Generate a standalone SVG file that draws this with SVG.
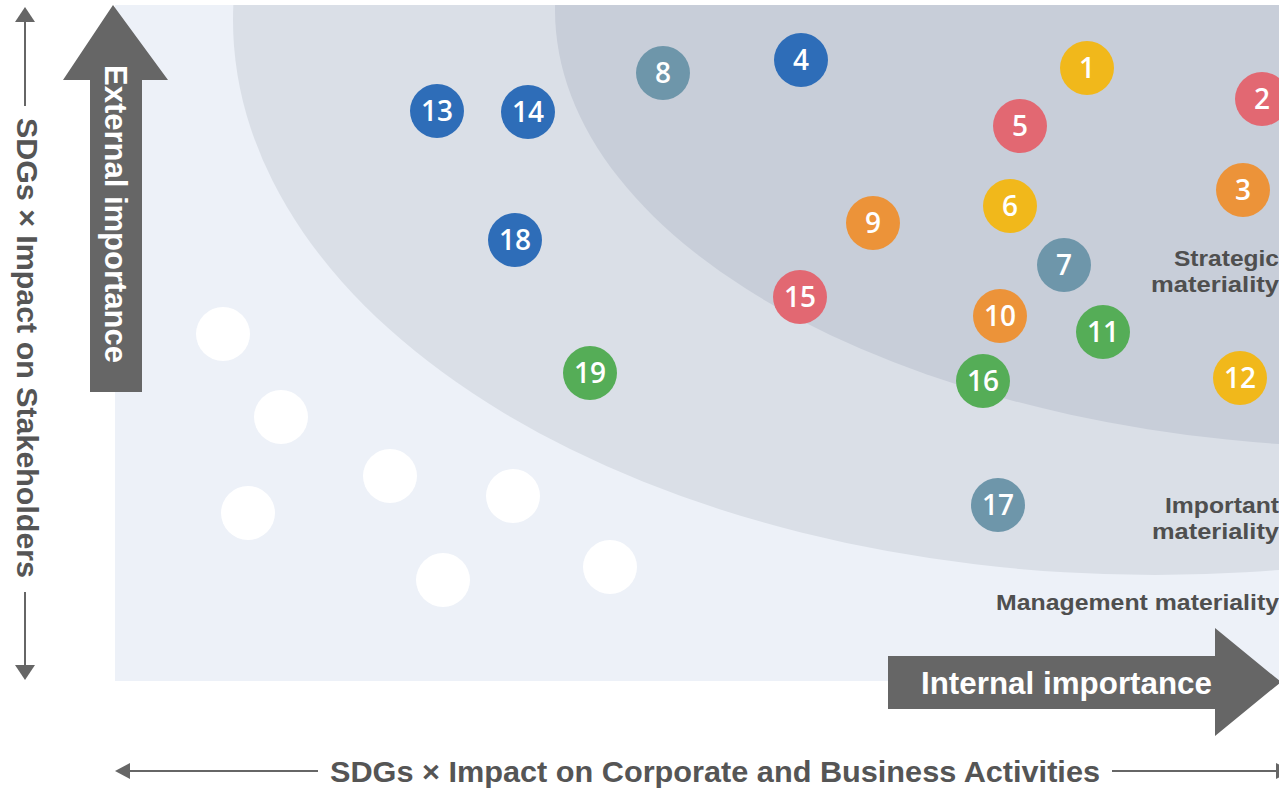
<svg xmlns="http://www.w3.org/2000/svg" width="1279" height="788" viewBox="0 0 1279 788">
<style>
.lbl{font-family:"Liberation Sans",Arial,sans-serif;font-weight:700;fill:#4f4f4f}
.big{font-family:"Liberation Sans",Arial,sans-serif;font-weight:700;fill:#ffffff}
.axis{font-family:"Liberation Sans",Arial,sans-serif;font-weight:700;fill:#555555}
.num{font-family:"Open Sans","Noto Sans",sans-serif;font-weight:600;font-size:28px;fill:#ffffff;text-anchor:middle}
.ln{stroke:#666666;stroke-width:2;fill:none}
.ah{fill:#666666}
.dot{fill:#ffffff}
.blue{fill:#2e6db8}.slate{fill:#6e96aa}.yellow{fill:#f1b81b}.red{fill:#e26872}.orange{fill:#ec9339}.green{fill:#55ad57}
</style>
<defs>
<clipPath id="bgclip"><rect x="115" y="5" width="1164" height="676"/></clipPath>
</defs>
<g id="background">
<rect x="115" y="5" width="1164" height="676" fill="#edf1f8"/>
<g clip-path="url(#bgclip)">
<ellipse id="important-zone" cx="1155" cy="20" rx="922" ry="555" fill="#dadfe7"/>
<ellipse id="strategic-zone" cx="1390" cy="10" rx="835" ry="438" fill="#c8ced9"/>
</g>
</g>
<g id="white-dots">
<circle class="dot" cx="223" cy="334" r="27"/>
<circle class="dot" cx="281" cy="417" r="27"/>
<circle class="dot" cx="390" cy="476" r="27"/>
<circle class="dot" cx="513" cy="496" r="27"/>
<circle class="dot" cx="248" cy="513" r="27"/>
<circle class="dot" cx="443" cy="580" r="27"/>
<circle class="dot" cx="610" cy="567" r="27"/>
</g>
<g id="zone-labels">
<text class="lbl" font-size="22" text-anchor="end" x="1279" y="266" textLength="105" lengthAdjust="spacingAndGlyphs">Strategic</text>
<text class="lbl" font-size="22" text-anchor="end" x="1279" y="292" textLength="128" lengthAdjust="spacingAndGlyphs">materiality</text>
<text class="lbl" font-size="22" text-anchor="end" x="1279" y="513" textLength="114" lengthAdjust="spacingAndGlyphs">Important</text>
<text class="lbl" font-size="22" text-anchor="end" x="1279" y="539" textLength="127" lengthAdjust="spacingAndGlyphs">materiality</text>
<text class="lbl" font-size="22" text-anchor="end" x="1279" y="610" textLength="283" lengthAdjust="spacingAndGlyphs">Management materiality</text>
</g>
<g id="external-arrow">
<polygon class="ah" points="113,5 168,80 142,80 142,392 90,392 90,80 63,80"/>
<text class="big" font-size="32" transform="translate(105,65) rotate(90)" textLength="298" lengthAdjust="spacingAndGlyphs">External importance</text>
</g>
<g id="internal-arrow">
<polygon class="ah" points="888,656 1215,656 1215,628 1281,682 1215,736 1215,709 888,709"/>
<text class="big" font-size="32" x="921" y="694" textLength="291" lengthAdjust="spacingAndGlyphs">Internal importance</text>
</g>
<g id="connectors">
<polygon class="ah" points="25,7 35,22 15,22"/>
<line class="ln" x1="25" y1="20" x2="25" y2="106"/>
<line class="ln" x1="25" y1="592" x2="25" y2="667"/>
<polygon class="ah" points="15,665 35,665 25,680"/>
<polygon class="ah" points="115,771 130,763 130,779"/>
<line class="ln" x1="128" y1="771" x2="318" y2="771"/>
<line class="ln" x1="1112" y1="771" x2="1279" y2="771"/>
<polygon class="ah" points="1276,763 1291,771 1276,779"/>
</g>
<g id="axis-labels">
<text class="axis" font-size="30" transform="translate(17,118) rotate(90)" textLength="460" lengthAdjust="spacingAndGlyphs">SDGs × Impact on Stakeholders</text>
<text class="axis" font-size="30" x="330" y="782" textLength="770" lengthAdjust="spacingAndGlyphs">SDGs ×  Impact on Corporate and Business Activities</text>
</g>
<g id="n1"><circle class="yellow" cx="1087" cy="68" r="27"/><text class="num" x="1087" y="78">1</text></g>
<g id="n2"><circle class="red" cx="1262" cy="99" r="27"/><text class="num" x="1262" y="109">2</text></g>
<g id="n3"><circle class="orange" cx="1243" cy="190" r="27"/><text class="num" x="1243" y="200">3</text></g>
<g id="n4"><circle class="blue" cx="801" cy="60" r="27"/><text class="num" x="801" y="70">4</text></g>
<g id="n5"><circle class="red" cx="1020" cy="126" r="27"/><text class="num" x="1020" y="136">5</text></g>
<g id="n6"><circle class="yellow" cx="1010" cy="206" r="27"/><text class="num" x="1010" y="216">6</text></g>
<g id="n7"><circle class="slate" cx="1064" cy="265" r="27"/><text class="num" x="1064" y="275">7</text></g>
<g id="n8"><circle class="slate" cx="663" cy="73" r="27"/><text class="num" x="663" y="83">8</text></g>
<g id="n9"><circle class="orange" cx="873" cy="223" r="27"/><text class="num" x="873" y="233">9</text></g>
<g id="n10"><circle class="orange" cx="1000" cy="316" r="27"/><text class="num" x="1000" y="326">10</text></g>
<g id="n11"><circle class="green" cx="1103" cy="332" r="27"/><text class="num" x="1103" y="342">11</text></g>
<g id="n12"><circle class="yellow" cx="1240" cy="378" r="27"/><text class="num" x="1240" y="388">12</text></g>
<g id="n13"><circle class="blue" cx="437" cy="111" r="27"/><text class="num" x="437" y="121">13</text></g>
<g id="n14"><circle class="blue" cx="528" cy="112" r="27"/><text class="num" x="528" y="122">14</text></g>
<g id="n15"><circle class="red" cx="800" cy="297" r="27"/><text class="num" x="800" y="307">15</text></g>
<g id="n16"><circle class="green" cx="983" cy="381" r="27"/><text class="num" x="983" y="391">16</text></g>
<g id="n17"><circle class="slate" cx="998" cy="505" r="27"/><text class="num" x="998" y="515">17</text></g>
<g id="n18"><circle class="blue" cx="515" cy="240" r="27"/><text class="num" x="515" y="250">18</text></g>
<g id="n19"><circle class="green" cx="590" cy="373" r="27"/><text class="num" x="590" y="383">19</text></g>
</svg>
